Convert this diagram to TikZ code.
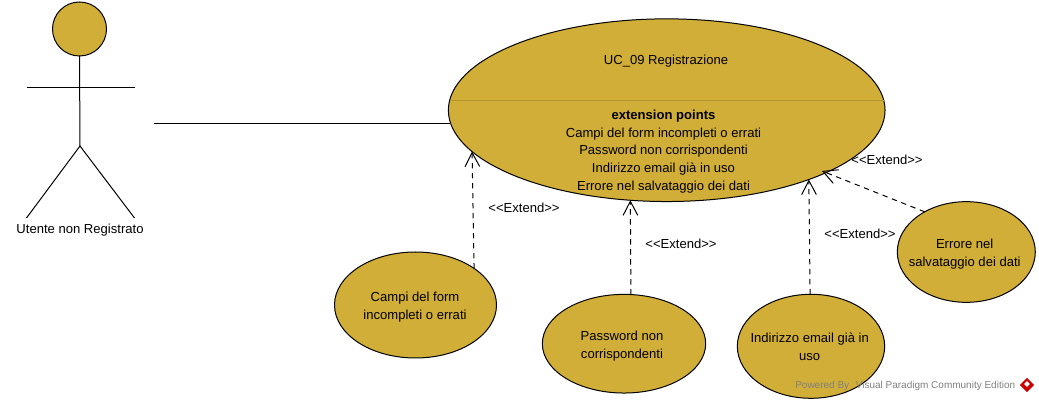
\documentclass[tikz,border=0pt]{standalone}
\usepackage{fontspec}
\setmainfont{Liberation Sans}
\usetikzlibrary{arrows.meta,shapes.geometric}
\definecolor{ucfill}{HTML}{D1AE37}
\definecolor{ucline}{HTML}{B39632}
\tikzset{
    usecase/.style={ellipse, draw=black, fill=ucfill, line width=0.75pt, inner sep=0pt, outer sep=0pt},
    uctext/.style={inner sep=0pt, align=center, font=\fontsize{9.8}{13.4}\selectfont},
    extlabel/.style={inner sep=0pt, font=\fontsize{9.8}{13.4}\selectfont},
    extendarrow/.style={dashed, dash pattern=on 4pt off 3.5pt, line width=0.75pt, -{Straight Barb[length=10.5pt,width=11pt,line width=0.75pt]}}
}
\begin{document}
\begin{tikzpicture}[x=0.75pt,y=-0.75pt]
        \useasboundingbox (0,0) rectangle (1039,402);
        % ---- actor ----
        \node[circle, draw=black, fill=ucfill, line width=0.75pt, minimum size=40.5pt, inner sep=0pt, outer sep=0pt] (head) at (79.5,29) {};
        \coordinate (hip) at (80,146);
        \coordinate (armL) at (26.5,88);
        \coordinate (armR) at (134.5,88);
        \coordinate (footL) at (26.5,218);
        \coordinate (footR) at (134.5,218);
        \draw[line width=0.75pt] (head.south) -- (hip);
        \draw[line width=0.75pt] (armL) -- (armR);
        \draw[line width=0.75pt] (footL) -- (hip) -- (footR);
        \node[uctext] (actor) at (80,230.5) {Utente non Registrato};
        % ---- main use case ----
        \node[usecase, minimum width=327.5pt, minimum height=137pt] (registrazione) at (666.7,110.2) {};
        \coordinate (sepL) at (449.5,100.5);
        \coordinate (sepR) at (884,100.5);
        \draw[ucline, line width=0.75pt] (sepL) -- (sepR);
        \node[uctext] (title) at (666,61.5) {UC\_09 Registrazione};
        \node[uctext, anchor=north] (points) at (663.5,109.5) {\textbf{extension points}\\Campi del form incompleti o errati\\Password non corrispondenti\\Indirizzo email già in uso\\Errore nel salvataggio dei dati};
        % ---- extending use cases ----
        \node[usecase, minimum width=121.5pt, minimum height=79.5pt] (campi) at (415.5,305) {};
        \node[uctext] (campitext) at (415,307) {Campi del form\\incompleti o errati};
        \node[usecase, minimum width=122.5pt, minimum height=74pt] (password) at (624,343.7) {};
        \node[uctext] (passwordtext) at (622,346) {Password non\\corrispondenti};
        \node[usecase, minimum width=110.5pt, minimum height=78pt] (indirizzo) at (811,346.3) {};
        \node[uctext] (indirizzotext) at (809.7,347) {Indirizzo email già in\\uso};
        \node[usecase, minimum width=103.5pt, minimum height=75.5pt] (errore) at (966.3,252) {};
        \node[uctext] (erroretext) at (964.7,254) {Errore nel\\salvataggio dei dati};
        % ---- association ----
        \coordinate (assocstart) at (153.5,124);
        \draw[line width=0.75pt] (assocstart) -- (assocstart -| registrazione.183);
        % ---- extend relations ----
        \foreach \src/\srcang/\dstang in {campi/32.5/192.4, password/82/248.4, indirizzo/91/334.2} {
            \draw[extendarrow] (\src.\srcang) -- (registrazione.\dstang);
        }
        \coordinate (erroretip) at (822,171);
        \draw[extendarrow] (errore.136) -- (erroretip);
        \node[extlabel] (ext1) at (524,208) {<{}<Extend>{}>};
        \node[extlabel] (ext2) at (681,243.5) {<{}<Extend>{}>};
        \node[extlabel] (ext3) at (860,233.5) {<{}<Extend>{}>};
        \node[extlabel] (ext4) at (887,159.5) {<{}<Extend>{}>};
        % ---- watermark ----
        \node[inner sep=0pt, anchor=west, text=gray, font=\fontsize{7.5}{10}\selectfont] (powered) at (795,385.5) {Powered By\hspace{5pt}Visual Paradigm Community Edition};
        \node[diamond, fill=red!80!black, minimum size=11pt, inner sep=0pt] (logo) at (1027,385) {};
        \node[diamond, fill=white, minimum size=4.5pt, inner sep=0pt] (logoin) at (1027,384) {};
    \end{tikzpicture}
\end{document}
